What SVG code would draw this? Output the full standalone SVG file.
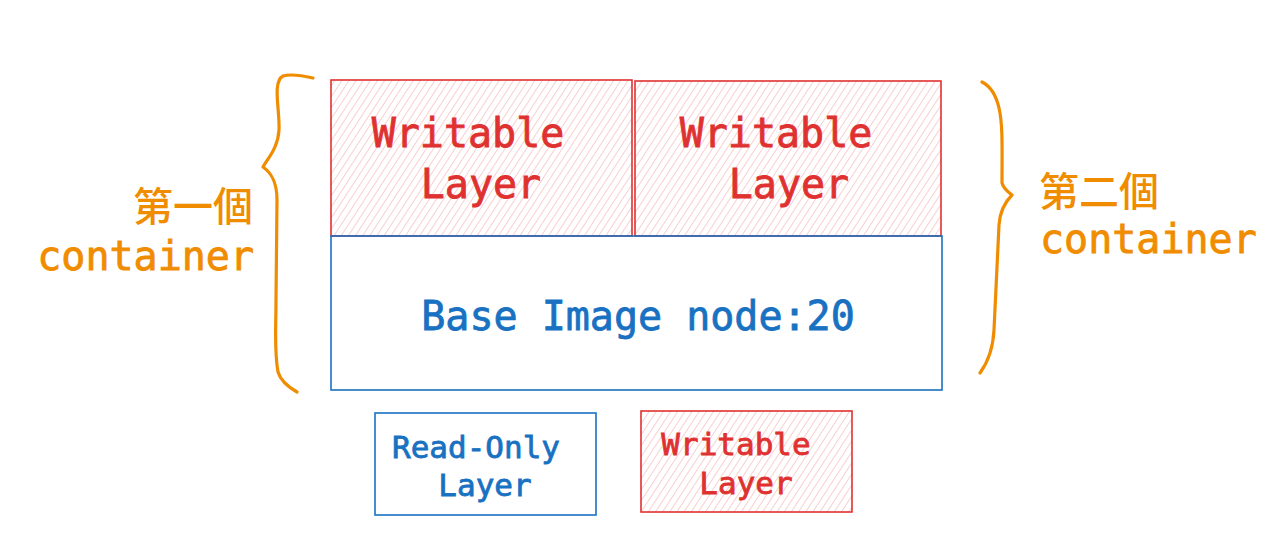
<svg xmlns="http://www.w3.org/2000/svg" width="1282" height="557" viewBox="0 0 1282 557">
<style>
.red{fill:url(#hatch);stroke:#e03131;stroke-width:1.6}
.blue{fill:none;stroke:#1971c2;stroke-width:1.6}
.brace{fill:none;stroke:#f08c00;stroke-width:3.2;stroke-linecap:round;stroke-linejoin:round}
.t{font-family:"DejaVu Sans Mono","Liberation Mono",monospace;text-anchor:middle;stroke-width:0.8}
.tr{fill:#e03131;stroke:#e03131}
.tb{fill:#1971c2;stroke:#1971c2}
.to{fill:#f08c00;stroke:#f08c00;stroke-width:0.8;font-family:"DejaVu Sans Mono","Noto Sans CJK TC",monospace;font-size:40px}
.cjk{font-family:"Noto Sans CJK TC","Noto Sans CJK SC",sans-serif;font-size:40px;font-weight:500}
</style>
<defs>
<pattern id="hatch" width="6" height="6" patternUnits="userSpaceOnUse" patternTransform="rotate(33)">
<rect width="6" height="6" fill="#fff"/>
<line x1="0" y1="0" x2="0" y2="6" stroke="#f5a8a8" stroke-width="1.1"/>
</pattern>
</defs>
<rect width="1282" height="557" fill="#fff"/>
<g id="writable1">
<rect class="red" x="331" y="80" width="301" height="156"/>
<text class="t tr" x="468" y="147" font-size="40">Writable</text>
<text class="t tr" x="481" y="198" font-size="40">Layer</text>
</g>
<g id="writable2">
<rect class="red" x="635" y="81" width="306" height="155"/>
<text class="t tr" x="776" y="147" font-size="40">Writable</text>
<text class="t tr" x="789" y="198" font-size="40">Layer</text>
</g>
<g id="base">
<rect class="blue" x="331" y="236" width="611" height="154"/>
<text class="t tb" x="638" y="330" font-size="40">Base Image node:20</text>
</g>
<g id="readonly">
<rect class="blue" x="375" y="413" width="221" height="102"/>
<text class="t tb" x="476" y="458" font-size="31">Read-Only</text>
<text class="t tb" x="485" y="496" font-size="31">Layer</text>
</g>
<g id="writable-legend">
<rect class="red" x="641" y="411" width="211" height="101"/>
<text class="t tr" x="736" y="455" font-size="31">Writable</text>
<text class="t tr" x="746" y="494" font-size="31">Layer</text>
</g>
<g id="container1">
<path class="brace" d="M313,78 C300,75 290,74 283,76 C272,82 280,110 279,130 C278,148 268,158 263,167 C270,172 277,180 277,200 L276,300 C276,330 274,350 278,372 C281,382 290,388 297,392"/>
<text class="cjk" x="253" y="221" text-anchor="end" fill="#f08c00">第一個</text>
<text class="to" x="254" y="270" text-anchor="end">container</text>
</g>
<g id="container2">
<path class="brace" d="M982,82 C990,86 996,95 999,108 C1003,125 1002,150 1002,183 C1004,190 1010,193 1012,195 C1005,202 1000,210 999,225 L994,330 C993,350 988,362 980,373"/>
<text class="cjk" x="1039" y="206" fill="#f08c00">第二個</text>
<text class="to" x="1040" y="253">container</text>
</g>
<g id="connectors"/>
</svg>
